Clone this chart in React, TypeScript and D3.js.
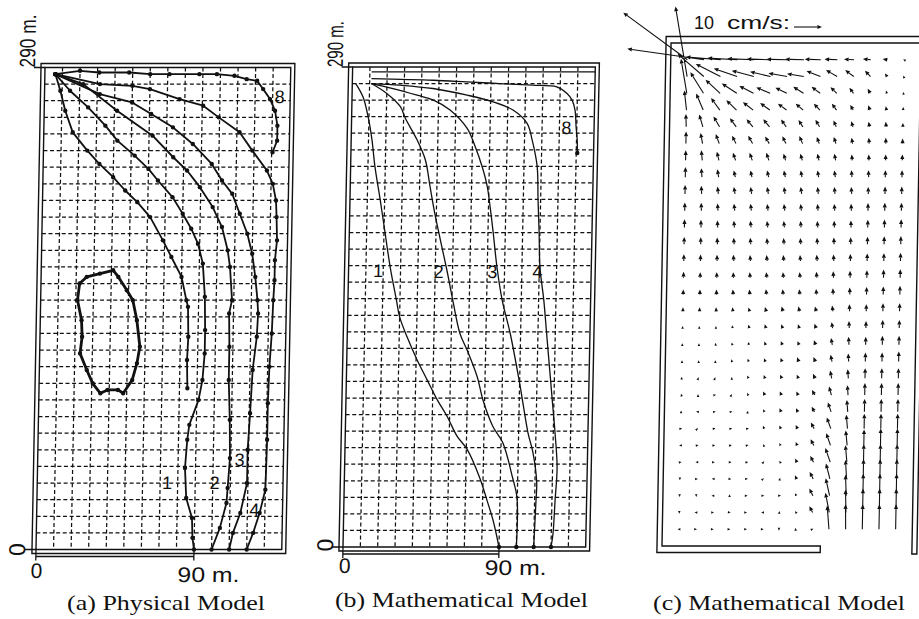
import React, { useEffect, useRef } from 'react';
import * as d3 from 'd3';

type Pt = [number, number];

// ---------- (a) Physical Model: float tracks, metres [x, y] ----------
const physTrack1: Pt[] = [[6, 286], [14.5, 276], [25, 266], [35, 255], [42, 246], [52, 237], [60, 229], [65.5, 222], [74, 212], [80, 202], [85, 193], [89, 184], [92, 172], [93.5, 152], [94, 132], [94, 118], [93, 102], [91, 90], [86, 75], [85, 66], [84, 49], [85, 31], [88.5, 19], [89, 7], [90, 0]];
const physTrack2: Pt[] = [[6, 286], [22, 280], [41.5, 264], [62, 249], [74, 236], [82, 228], [89.5, 218], [97, 206], [102.5, 194], [106, 180], [107.5, 170], [109, 150], [107.5, 142], [108, 122], [108, 102], [109, 78], [109.5, 55], [108.5, 37], [108, 28], [104.5, 13], [100, 0]];
const physTrack3: Pt[] = [[6, 286], [31.5, 274], [50, 269], [61, 262], [73.5, 254], [85, 244], [96, 232], [102, 222], [108, 214], [112.5, 202], [117, 190], [120, 178], [122, 164], [123.5, 150], [124, 142], [123.5, 128], [121.5, 108], [120.5, 82], [119.5, 60], [119.5, 40], [116, 22], [112, 10], [110, 0]];
const physTrack4: Pt[] = [[6, 286], [31.5, 280], [50, 279], [60, 277], [77, 271], [90.5, 267], [99.5, 260], [111.5, 251], [119, 240], [127.5, 228], [131, 220], [133, 210], [133.5, 200], [134, 186], [133, 174], [133, 162], [132.5, 150], [132, 130], [131, 110], [130.5, 88], [130.5, 66], [130, 36], [127, 22], [123.5, 10], [120, 0]];
const physTrack8: Pt[] = [[6, 286], [20, 288], [31, 287], [48, 287], [60, 286], [71, 286], [88, 286], [98, 286], [108, 285], [115, 283], [121, 282], [124.5, 277], [128.5, 271], [131.5, 264], [133, 255], [133, 246], [130.5, 239]];
const physTrackInner: Pt[] = [[6, 286], [9, 276], [12, 264], [16.5, 251], [25, 240], [32, 232], [40, 224], [47, 216], [54, 209], [61.5, 200], [69, 186], [74, 176], [80, 164], [83, 150], [84, 146], [84.5, 128], [84, 114], [84.5, 97]];
const physEddy: Pt[] = [[22, 160], [26, 164], [33.5, 166], [41, 168], [44, 164], [49, 156], [52.5, 150], [55, 138], [57, 122], [55.5, 112], [53, 102], [48, 94], [45, 96], [39, 96], [35, 94], [30.5, 100], [27, 108], [23, 118], [24, 128], [23.5, 138], [21, 150]];
const physLabels = ['1', '2', '3', '4', '8'];
const physLabelAt: Pt[] = [[74, 40], [101, 40], [115, 54], [124, 24], [134, 272]];

// ---------- (b) Mathematical Model: computed tracks ----------
const mathTrack1: Pt[] = [[2, 280], [6.3, 272], [9.5, 260], [12, 246], [14, 230], [17.4, 210], [20.6, 190], [24, 169], [28, 149], [30, 139], [34.5, 127], [40.6, 113], [46.6, 101], [52.6, 89], [58.5, 79], [64.5, 67], [70.5, 59], [78, 42], [82.6, 28], [86.3, 16], [90, 0]];
const mathTrack2: Pt[] = [[11, 280], [20, 274], [28, 266], [31, 259], [38, 246], [43, 234], [46, 218], [49, 202], [52.5, 186], [57, 166], [60.5, 149], [65, 129], [69.3, 119], [75.4, 103], [79, 89], [85, 73], [91, 63], [97, 42], [99.8, 30], [100, 0]];
const mathTrack3: Pt[] = [[11, 280], [23.5, 277], [37.5, 273], [47, 270], [56.7, 264], [66.7, 253], [71.6, 242], [75.8, 230], [79, 218], [81, 205], [83, 190], [85.6, 169], [89, 149], [94, 129], [100, 99], [105.4, 69], [108.5, 57], [111, 39], [110.8, 28], [110, 0]];
const mathTrack4: Pt[] = [[11, 280], [27.6, 279], [46.6, 277], [66.4, 273], [81.4, 269], [93, 264], [101.3, 256], [104.4, 246], [107.6, 230], [108.5, 210], [109.5, 190], [110.4, 169], [113, 149], [115, 129], [119, 89], [121, 69], [122.6, 48], [121.8, 28], [121, 8], [120, 0]];
const mathTrack8: Pt[] = [[11, 283], [46.6, 282], [66, 281], [85, 280], [104, 279], [118, 278], [124, 274], [127, 270], [128.8, 264], [129.6, 254], [130.4, 246], [130.6, 238]];
const mathLabels = ['1', '2', '3', '4', '8'];
const mathLabelAt: Pt[] = [[17, 167], [52, 166], [83, 166], [109, 166], [124, 253]];

// ---------- (c) Mathematical Model: velocity field (cm/s) ----------
const fieldCols = [10, 20, 30, 40, 50, 60, 70, 80, 90, 100, 110, 120, 130, 140];
const fieldRows = [290, 280, 270, 260, 250, 240, 230, 220, 210, 200, 190, 180, 170, 160, 150, 140, 130, 120, 110, 100, 90, 80, 70, 60, 50, 40, 30, 20, 10];
const fieldU: number[][] = [
  [-23.2, -27.5, -12.5, -10.7, -9.6, -8.6, -7.5, -6.8, -5.7, -4.6, -3.6, -2.8, -1.7, -0.3],
  [-4.6, -9.5, -8.9, -8.4, -7.9, -7.3, -6.7, -6.0, -5.0, -4.0, -3.1, -2.0, -0.8, -0.1],
  [-2.3, -4.8, -5.3, -5.4, -5.1, -5.0, -4.1, -3.7, -3.1, -2.3, -1.5, -0.9, -0.3, -0.05],
  [-0.9, -2.6, -3.2, -3.7, -3.7, -3.5, -3.1, -2.7, -2.2, -1.7, -1.1, -0.6, -0.3, 0],
  [-0.2, -1.4, -2.2, -2.3, -2.3, -2.3, -1.9, -1.6, -1.5, -1.0, -0.6, -0.4, -0.2, 0],
  [0, -0.8, -1.3, -1.4, -1.6, -1.5, -1.3, -1.2, -0.9, -0.8, -0.4, -0.2, -0.1, 0],
  [0, -0.4, -0.8, -1.0, -1.0, -1.0, -0.8, -0.75, -0.6, -0.5, -0.25, -0.1, 0, 0],
  [0, -0.3, -0.5, -0.6, -0.6, -0.6, -0.55, -0.5, -0.45, -0.4, -0.25, -0.1, 0, 0],
  [0, -0.2, -0.35, -0.45, -0.45, -0.45, -0.4, -0.4, -0.35, -0.3, -0.2, -0.1, 0, 0],
  [0, -0.1, -0.25, -0.3, -0.35, -0.35, -0.3, -0.3, -0.25, -0.2, -0.15, -0.05, 0, 0],
  [0, -0.1, -0.2, -0.25, -0.3, -0.3, -0.3, -0.25, -0.2, -0.15, -0.1, 0, 0, 0],
  [0, -0.05, -0.15, -0.2, -0.25, -0.25, -0.25, -0.2, -0.2, -0.15, -0.1, 0, 0, 0],
  [0, 0, -0.1, -0.2, -0.2, -0.25, -0.25, -0.2, -0.2, -0.15, -0.1, 0, 0, 0],
  [0, 0, -0.1, -0.15, -0.2, -0.25, -0.25, -0.25, -0.2, -0.15, -0.1, 0, 0, 0],
  [0, 0, -0.1, -0.15, -0.2, -0.25, -0.25, -0.25, -0.2, -0.15, -0.1, 0, 0, 0],
  [0, 0, -0.1, -0.2, -0.4, -0.5, -0.5, -0.5, -0.5, -0.3, -0.1, 0, 0, 0],
  [0, 0, 0, -0.2, -0.35, -0.45, -0.5, -0.5, -0.55, -0.4, -0.15, 0, 0, 0],
  [0, 0, -0.1, -0.2, -0.35, -0.5, -0.55, -0.55, -0.65, -0.5, -0.2, 0, 0, 0],
  [0, 0, 0, -0.3, -0.4, -0.5, -0.55, -0.6, -0.7, -0.55, -0.2, 0, 0, 0],
  [0, 0.2, 0.2, -0.1, -0.4, -0.5, -0.6, -0.6, -0.75, -0.6, -0.3, 0, 0, 0],
  [-0.15, 0, 0.5, 0.2, -0.3, -0.6, -0.6, -0.65, -1.0, -0.9, -0.3, 0, 0, 0],
  [0, -0.6, 0.5, 0.5, 0.1, -0.5, -0.6, -0.65, -1.0, -1.2, -0.4, 0, 0, 0],
  [0.5, 0.2, 0.5, 0.5, 0.5, -0.45, -0.55, -0.65, -1.2, -1.5, -0.5, 0, 0, 0],
  [-0.5, 0.5, 0.5, 0.5, 0.5, -0.2, -0.4, -0.55, -1.2, -1.6, -0.6, 0, 0, 0],
  [0.5, -0.5, 0.5, 0.5, 0.5, 0.3, -0.3, -0.6, -1.2, -1.8, -0.6, 0, 0, 0],
  [0, 0.5, -0.5, 0.5, 0.5, 0.3, 0.1, -0.6, -1.3, -1.5, -0.5, 0, 0, 0],
  [0, 0, -0.5, 0, 0.5, 0.5, 0.5, -0.5, -1.3, -1.5, -0.4, 0, 0, 0],
  [0, -0.5, 0.5, 0.5, 0.4, -0.5, 0, -0.3, -1.2, -1.5, -0.3, 0, 0, 0],
  [-0.5, 0.5, 0.5, 0.5, 0.5, 0.5, 0, 0, 0.4, -0.8, -0.2, 0, 0, 0],
];
const fieldV: number[][] = [
  [16.8, 3.9, 1.0, 0.6, 0.4, 0.3, 0.2, 0.2, 0.2, 0.2, 0.2, 0.3, 0.3, 0.2],
  [25, 8.1, 4.5, 2.9, 2.1, 1.7, 1.2, 1.0, 2.0, 2.3, 2.3, 2.1, 1.1, 0.4],
  [12.3, 7.5, 4.8, 3.5, 2.6, 2.1, 2.0, 2.3, 2.3, 2.2, 2.0, 1.6, 1.0, 0.5],
  [7.0, 5.9, 4.3, 3.5, 2.8, 2.5, 2.3, 2.3, 2.3, 2.3, 1.8, 1.7, 1.4, 1.1],
  [4.6, 4.4, 3.7, 3.1, 2.7, 2.7, 2.6, 2.4, 2.5, 2.3, 2.0, 1.8, 1.8, 1.4],
  [4.3, 3.8, 3.4, 2.8, 2.8, 2.5, 2.6, 2.7, 2.4, 2.4, 2.1, 2.1, 2.1, 1.8],
  [3.6, 3.6, 3.1, 2.7, 2.7, 2.7, 2.4, 2.4, 2.4, 2.4, 2.1, 2.1, 2.1, 2.1],
  [3.6, 3.2, 2.8, 2.4, 2.4, 2.4, 2.4, 2.4, 2.4, 2.4, 2.5, 2.5, 2.5, 2.5],
  [3.2, 2.9, 2.6, 2.5, 2.5, 2.5, 2.5, 2.5, 2.5, 2.5, 2.5, 2.5, 2.6, 2.6],
  [2.9, 2.8, 2.6, 2.5, 2.5, 2.4, 2.4, 2.4, 2.4, 2.4, 2.5, 2.7, 2.8, 2.8],
  [2.9, 2.7, 2.5, 2.4, 2.4, 2.3, 2.3, 2.3, 2.3, 2.4, 2.5, 2.7, 2.8, 2.9],
  [2.6, 2.5, 2.4, 2.3, 2.3, 2.2, 2.2, 2.2, 2.3, 2.4, 2.5, 2.7, 2.8, 2.9],
  [2.4, 2.3, 2.2, 2.2, 2.1, 2.1, 2.1, 2.1, 2.2, 2.3, 2.5, 2.7, 2.8, 2.9],
  [2.1, 2.0, 2.0, 2.0, 2.0, 2.0, 2.0, 2.0, 2.1, 2.3, 2.5, 2.7, 2.9, 3.0],
  [1.8, 1.8, 1.8, 1.8, 1.8, 1.9, 1.9, 1.9, 2.0, 2.2, 2.5, 2.7, 2.9, 3.1],
  [1.4, 1.4, 1.4, 1.4, 1.35, 1.5, 1.7, 1.7, 1.7, 2.1, 2.5, 2.5, 2.9, 2.9],
  [0.7, 0.7, 0.7, 1.0, 1.2, 1.35, 1.35, 1.35, 1.5, 2.1, 2.5, 2.5, 2.9, 2.9],
  [0.55, 0.55, 0.7, 0.85, 1.0, 1.15, 1.3, 1.3, 1.65, 2.45, 2.85, 2.85, 3.2, 3.2],
  [0.5, 0.5, 0.5, 0.8, 1.0, 1.15, 1.3, 1.5, 1.6, 2.45, 2.85, 3.2, 3.2, 3.6],
  [0.55, 0.35, 0.35, 0.5, 1.0, 1.15, 1.3, 1.3, 1.6, 2.8, 3.2, 3.6, 3.6, 3.6],
  [0.5, 0.35, 0.1, 0.35, 0.8, 1.3, 1.3, 1.3, 1.85, 3.1, 3.55, 4.3, 4.3, 4.3],
  [0.5, 0.1, 0.1, 0.1, 0.4, 0.9, 1.3, 1.3, 1.85, 3.35, 4.25, 4.6, 4.6, 4.6],
  [0.1, 0.2, 0.1, 0.1, 0.15, 1.0, 1.15, 1.3, 2.2, 4.0, 5.0, 5.35, 5.35, 5.35],
  [0.05, 0.1, 0.1, 0.1, 0.1, 0.5, 0.9, 1.2, 2.2, 4.35, 5.35, 5.7, 6.05, 6.05],
  [0.1, 0.05, 0, 0, 0.1, 0.3, 0.5, 1.3, 2.2, 5.05, 6.05, 6.4, 6.4, 6.4],
  [-0.5, 0, 0.05, -0.1, 0.05, 0.2, 0.4, 1.3, 2.5, 5.5, 6.8, 7.1, 7.1, 7.1],
  [-0.5, -0.5, 0, 0.5, 0, 0, 0.05, 0.9, 2.55, 6.25, 7.5, 7.85, 7.85, 7.85],
  [-0.5, 0, 0, -0.05, 0, 0, 0.5, 0.5, 2.2, 7.0, 8.2, 8.55, 8.55, 8.55],
  [0, 0, 0, 0, 0, 0, -0.5, 0.5, 0.2, 8.5, 8.9, 8.9, 8.9, 8.9],
];

const xTickValues = [0, 90];
const xTickLabels = ['0', '90 m.'];
const yTickValues = [0, 290];
const yTickLabels = ['0', '290 m.'];
const captions = ['(a) Physical Model', '(b) Mathematical Model', '(c) Mathematical Model'];

const W = 919;
const H = 619;
const INK = '#111';
const SANS = '"Liberation Sans", Arial, sans-serif';
const SERIF = '"Liberation Serif", "Times New Roman", serif';

type Lin = d3.ScaleLinear<number, number>;
type G = d3.Selection<SVGGElement, unknown, null, undefined>;

const App: React.FC = () => {
    const svgRef = useRef<SVGSVGElement>(null);

    useEffect(() => {
        if (!svgRef.current) return;
        const svg = d3.select(svgRef.current);
        svg.selectAll('*').remove();

        svg.append('rect').attr('width', W).attr('height', H).attr('fill', '#fff');

        // basin panel with dashed 10 m grid (panels a and b)
        const basin = (
            x: Lin, y: Lin, skew: number,
            tickOff: { y0: Pt; yTop: Pt; yTopLen: number; x0: Pt; x90: Pt },
        ): G => {
            const px = x(0), py = y(0);
            const g = svg.append('g')
                .attr('transform', `translate(${px},${py}) skewX(${skew}) translate(${-px},${-py})`);
            const xl = x(0), xr = x(140), yt = y(290), yb = y(0);

            // grid
            const grid = g.append('g').attr('stroke', INK).attr('stroke-width', 1.25).attr('stroke-dasharray', '4 2.6');
            grid.selectAll('line.v').data(d3.range(10, 140, 10)).join('line').attr('class', 'v')
                .attr('x1', d => x(d)).attr('x2', d => x(d)).attr('y1', yt).attr('y2', yb);
            grid.selectAll('line.h').data(d3.range(10, 290, 10)).join('line').attr('class', 'h')
                .attr('x1', xl).attr('x2', xr).attr('y1', d => y(d)).attr('y2', d => y(d));

            // double frame
            g.append('rect').attr('x', xl).attr('y', yt).attr('width', xr - xl).attr('height', yb - yt)
                .attr('fill', 'none').attr('stroke', INK).attr('stroke-width', 1.4);
            g.append('rect').attr('x', xl - 4).attr('y', yt - 4).attr('width', xr - xl + 8).attr('height', yb - yt + 8)
                .attr('fill', 'none').attr('stroke', INK).attr('stroke-width', 1.4);

            // dimension bar 0 - 90 m and ticks
            const dim = g.append('g').attr('stroke', INK).attr('stroke-width', 1.3);
            dim.append('line').attr('x1', x(0)).attr('x2', x(90)).attr('y1', yb + 7).attr('y2', yb + 7);
            xTickValues.forEach(v => {
                dim.append('line').attr('x1', x(v)).attr('x2', x(v)).attr('y1', yb).attr('y2', yb + 11);
            });
            yTickValues.forEach(v => {
                dim.append('line').attr('x1', xl - 11).attr('x2', xl).attr('y1', y(v)).attr('y2', y(v));
            });

            // tick labels (scanned lettering is wider than standard glyphs)
            const tl = g.append('g').attr('font-family', SANS).attr('fill', INK);
            tl.append('text').attr('transform', `translate(${xl + tickOff.y0[0]},${yb + tickOff.y0[1]}) rotate(-90)`)
                .attr('font-size', 23).attr('text-anchor', 'middle').text(yTickLabels[0]);
            tl.append('text')
                .attr('transform', `translate(${xl + tickOff.yTop[0]},${yt + tickOff.yTop[1]}) rotate(-90) scale(1,1.3)`)
                .attr('font-size', 17)
                .attr('textLength', tickOff.yTopLen).attr('lengthAdjust', 'spacingAndGlyphs').text(yTickLabels[1]);
            tl.append('text').attr('x', x(xTickValues[0]) + tickOff.x0[0]).attr('y', yb + tickOff.x0[1])
                .attr('font-size', 21).attr('text-anchor', 'middle').text(xTickLabels[0]);
            tl.append('text').attr('x', x(xTickValues[1]) + tickOff.x90[0]).attr('y', yb + tickOff.x90[1])
                .attr('font-size', 21)
                .attr('textLength', 62).attr('lengthAdjust', 'spacingAndGlyphs').text(xTickLabels[1]);
            return g;
        };

        const trackLabels = (g: G, x: Lin, y: Lin, labels: string[], at: Pt[]) => {
            g.append('g').attr('font-family', SANS).attr('font-size', 18).attr('fill', INK)
                .selectAll('text').data(labels).join('text')
                .attr('x', (_, i) => x(at[i][0])).attr('y', (_, i) => y(at[i][1]))
                .attr('text-anchor', 'middle').attr('dominant-baseline', 'central')
                .text(d => d);
        };

        // ---------------- (a) ----------------
        const xA = d3.scaleLinear().domain([0, 90]).range([36, 194]);
        const yA = d3.scaleLinear().domain([0, 290]).range([549.5, 67.5]);
        const gA = basin(xA, yA, -1.07, { y0: [-11, 0], yTop: [-10, 0], yTopLen: 53, x0: [1, 28.5], x90: [-16, 32.5] });
        const lineA = d3.line<Pt>().x(d => xA(d[0])).y(d => yA(d[1]));
        const tracksA = [physTrack1, physTrack2, physTrack3, physTrack4, physTrack8, physTrackInner];
        gA.append('g').selectAll('path').data(tracksA).join('path')
            .attr('d', d => lineA(d)).attr('fill', 'none').attr('stroke', INK).attr('stroke-width', 1.8)
            .attr('stroke-linejoin', 'round');
        gA.append('path').attr('d', lineA.curve(d3.curveLinearClosed)(physEddy))
            .attr('fill', 'none').attr('stroke', INK).attr('stroke-width', 2.8).attr('stroke-linejoin', 'round');
        gA.append('g').selectAll('circle').data([...tracksA.flat(), ...physEddy]).join('circle')
            .attr('cx', d => xA(d[0])).attr('cy', d => yA(d[1])).attr('r', 2.2).attr('fill', INK);
        trackLabels(gA, xA, yA, physLabels, physLabelAt);

        // ---------------- (b) ----------------
        const xB = d3.scaleLinear().domain([0, 90]).range([343, 499]);
        const yB = d3.scaleLinear().domain([0, 290]).range([547, 67]);
        const gB = basin(xB, yB, -1.15, { y0: [-10, -2], yTop: [-10, 0], yTopLen: 46, x0: [2, 26], x90: [-14, 28] });
        gB.append('line').attr('x1', xB(11)).attr('x2', xB(140)).attr('y1', yB(287)).attr('y2', yB(287))
            .attr('stroke', INK).attr('stroke-width', 1.3);
        const lineB = d3.line<Pt>().x(d => xB(d[0])).y(d => yB(d[1])).curve(d3.curveCatmullRom.alpha(0.5));
        const tracksB = [mathTrack1, mathTrack2, mathTrack3, mathTrack4, mathTrack8];
        gB.append('g').selectAll('path').data(tracksB).join('path')
            .attr('d', d => lineB(d)).attr('fill', 'none').attr('stroke', INK).attr('stroke-width', 1.3);
        gB.append('g').selectAll('circle').data(tracksB.map(t => t[t.length - 1])).join('circle')
            .attr('cx', d => xB(d[0])).attr('cy', d => yB(d[1])).attr('r', 2.2).attr('fill', INK);
        trackLabels(gB, xB, yB, mathLabels, mathLabelAt);

        // ---------------- (c) ----------------
        const xC = d3.scaleLinear().domain([0, 150]).range([662, 912]);
        const yC = d3.scaleLinear().domain([0, 300]).range([546, 43]);
        const speed = d3.scaleLinear().domain([0, 10]).range([0, 28]);
        const pc = [xC(0), yC(0)];
        const gC = svg.append('g')
            .attr('transform', `translate(${pc[0]},${pc[1]}) skewX(-1.03) translate(${-pc[0]},${-pc[1]})`);
        const cl = xC(0), ct = yC(300), cb = yC(0), cr = xC(150), gapEnd = xC(95);
        const wall = gC.append('g').attr('fill', 'none').attr('stroke', INK).attr('stroke-width', 1.4);
        wall.append('path').attr('d',
            `M${W + 30},${ct - 6.5}L${cl - 5},${ct - 6.5}L${cl - 5},${cb + 6.5}L${gapEnd},${cb + 6.5}L${gapEnd},${cb}L${cl},${cb}L${cl},${ct}L${W + 30},${ct}`);
        wall.append('path').attr('d', `M${cr},${ct}L${cr},${cb + 8}L${cr + 5},${cb + 8}L${cr + 5},${ct - 6.5}`);

        type Arrow = { x: number; y: number; dx: number; dy: number };
        const arrows: Arrow[] = [];
        fieldRows.forEach((r, i) => fieldCols.forEach((c, j) => {
            const u = fieldU[i][j], v = fieldV[i][j];
            arrows.push({ x: xC(c), y: yC(r), dx: speed(u), dy: -speed(v) });
        }));
        const drawArrows = (g: G, list: Arrow[]) => {
            const shafts: string[] = [];
            const heads: string[] = [];
            list.forEach(a => {
                const len = Math.hypot(a.dx, a.dy);
                if (len < 0.3) return;
                const ux = a.dx / len, uy = a.dy / len;
                const hl = Math.min(4.6, Math.max(2.8, len));
                const hw = hl * 0.45;
                const tx = a.x + a.dx, ty = a.y + a.dy;
                const bx = tx - ux * hl, by = ty - uy * hl;
                if (len > hl) shafts.push(`M${a.x},${a.y}L${bx},${by}`);
                heads.push(`M${tx},${ty}L${bx - uy * hw},${by + ux * hw}L${bx + uy * hw},${by - ux * hw}Z`);
            });
            g.append('path').attr('d', shafts.join('')).attr('stroke', INK).attr('stroke-width', 1.1).attr('fill', 'none');
            g.append('path').attr('d', heads.join('')).attr('fill', INK).attr('stroke', 'none');
        };
        drawArrows(gC, arrows);

        // scale arrow
        const leg = svg.append('g').attr('font-family', SANS).attr('font-size', 18).attr('fill', INK);
        leg.append('text').attr('x', 694).attr('y', 29).text('10');
        leg.append('text').attr('x', 727).attr('y', 29).attr('textLength', 63).attr('lengthAdjust', 'spacingAndGlyphs').text('cm/s:');
        drawArrows(leg, [{ x: 794, y: 27, dx: speed(10), dy: 0 }]);

        // captions
        const capX = [67, 335, 653];
        const capY = [610, 607, 610];
        const capLen = [198, 253, 252];
        svg.append('g').attr('font-family', SERIF).attr('font-size', 22).attr('fill', INK)
            .selectAll('text').data(captions).join('text')
            .attr('x', (_, i) => capX[i]).attr('y', (_, i) => capY[i])
            .attr('textLength', (_, i) => capLen[i]).attr('lengthAdjust', 'spacingAndGlyphs')
            .text(d => d);
    }, []);

    return (
        <svg ref={svgRef} width={W} height={H} viewBox={`0 0 ${W} ${H}`}
            style={{ position: 'absolute', left: 0, top: 0, display: 'block' }} />
    );
};

export default App;
